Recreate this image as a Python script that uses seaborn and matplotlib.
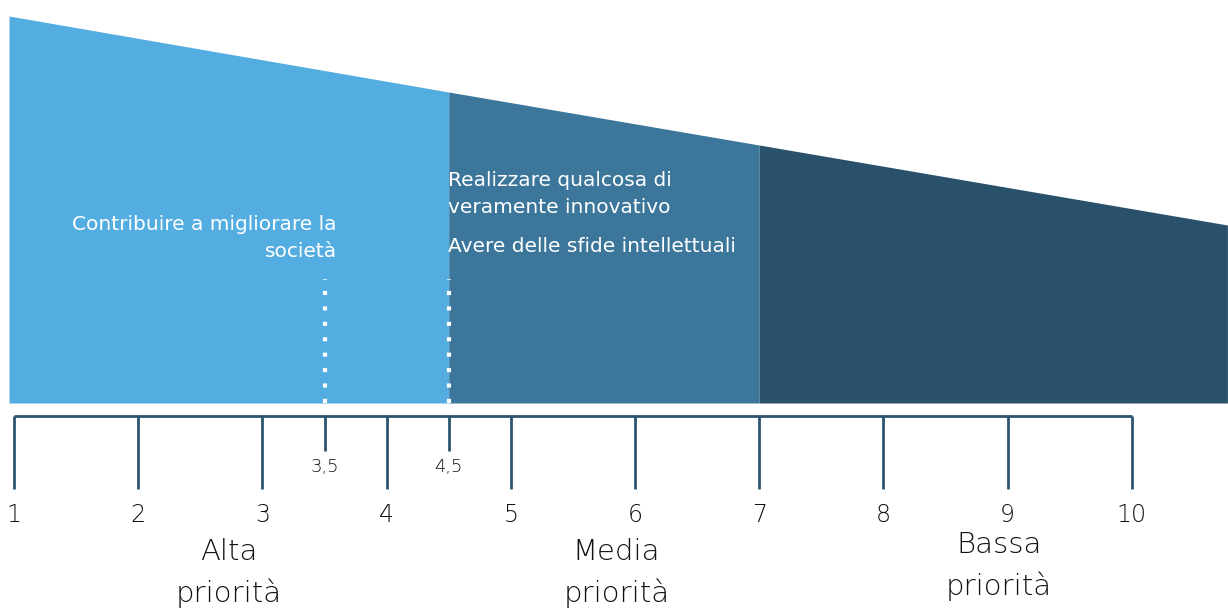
import matplotlib
matplotlib.use("Agg")
import matplotlib.pyplot as plt
import seaborn as sns
import pandas as pd

# priority bands: edges on the 1-10 scale and the height of the tapering top at each edge
band_edges = [0.96, 4.5, 7.0, 10.77]
top_heights = [387, 311, 258, 178]
band_names = ["Alta priorità", "Media priorità", "Bassa priorità"]
band_colors = ["#54ade0", "#3c779b", "#29516b"]

# scale
major_ticks = [1, 2, 3, 4, 5, 6, 7, 8, 9, 10]
minor_ticks = [3.5, 4.5]
minor_labels = ["3,5", "4,5"]
marker_height = 124

# category labels under the scale
cat_x = [2.73, 5.85, 8.93]
cat_y = [-170, -170, -163]
cat_labels = ["Alta\npriorità", "Media\npriorità", "Bassa\npriorità"]

# items placed inside the bands
item_texts = ["Contribuire a migliorare la\nsocietà",
              "Realizzare qualcosa di\nveramente innovativo",
              "Avere delle sfide intellettuali"]
item_x = [3.6, 4.495, 4.495]
item_y = [165, 209, 156]
item_ha = ["right", "left", "left"]

sns.set_theme(style="white")
plt.rcParams["font.family"] = ["DejaVu Sans"]

fig = plt.figure(figsize=(12.28, 6.08), dpi=100)
ax = fig.add_axes([0, 0, 1, 1])
ax.set_xlim(1 - 14 / 124.2, 1 + 1214 / 124.2)
ax.set_ylim(-205, 403)
ax.axis("off")

top = pd.DataFrame({"x": band_edges, "top": top_heights})
for i, c in enumerate(band_colors):
    seg = top.iloc[i:i + 2]
    ax.fill_between(seg["x"], 0, seg["top"], color=c, linewidth=0)

# dotted markers
ax.vlines(minor_ticks, 0, marker_height, colors="white", linewidth=3,
          linestyles=(0, (1, 2.7)))

# ruler
axis_col = "#2b5570"
ax.hlines(-13, major_ticks[0], major_ticks[-1], color=axis_col, linewidth=2)
ax.vlines(major_ticks, -86, -13, color=axis_col, linewidth=2)
ax.vlines(minor_ticks, -48, -13, color=axis_col, linewidth=2)
for t in major_ticks:
    ax.text(t, -112, str(t), ha="center", va="center", fontsize=17,
            fontweight="light", color="#111111")
for t, lab in zip(minor_ticks, minor_labels):
    ax.text(t, -64, lab, ha="center", va="center", fontsize=13,
            fontweight="light", color="#111111")

for x, y, lab in zip(cat_x, cat_y, cat_labels):
    ax.text(x, y, lab, ha="center", va="center", fontsize=21,
            fontweight="light", color="#111111", linespacing=1.5)

for t, x, y, ha in zip(item_texts, item_x, item_y, item_ha):
    ax.text(x, y, t, ha=ha, va="center", multialignment=ha, fontsize=14.5,
            color="white", linespacing=1.55)

fig.savefig("out.png", dpi=100)
